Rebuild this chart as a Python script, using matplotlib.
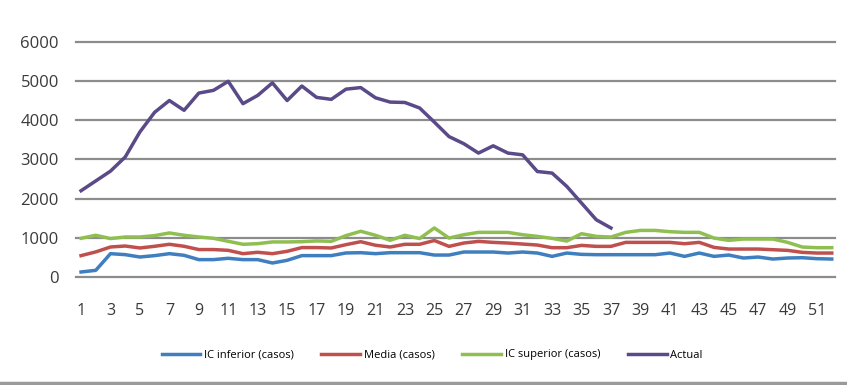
import matplotlib
matplotlib.use("Agg")
import matplotlib.pyplot as plt
from matplotlib.lines import Line2D
from matplotlib import font_manager

plt.rcParams['font.family'] = ['Open Sans', 'DejaVu Sans']

weeks = list(range(1, 53))
ic_inferior = [128, 170, 595, 570, 510, 545, 595, 553, 443, 443, 477, 443, 443, 357, 425, 545, 545, 545, 613, 620,
               595, 620, 620, 620, 560, 560, 637, 637, 637, 611, 637, 611, 526, 611, 577, 569, 569, 569, 569, 569,
               611, 526, 611, 526, 560, 484, 509, 458, 484, 492, 467, 458]
media = [545, 640, 765, 790, 740, 783, 834, 783, 700, 700, 680, 595, 630, 595, 655, 750, 750, 740, 825, 900,
         810, 765, 834, 834, 930, 781, 866, 908, 883, 866, 840, 815, 747, 747, 806, 781, 781, 883, 883, 883,
         883, 849, 883, 755, 713, 713, 713, 696, 679, 628, 611, 611]
ic_superior = [987, 1064, 980, 1020, 1020, 1055, 1123, 1064, 1020, 987, 910, 834, 850, 894, 894, 900, 920, 910, 1055, 1166,
               1064, 936, 1064, 980, 1250, 993, 1078, 1138, 1138, 1138, 1078, 1036, 985, 917, 1104, 1036, 1019, 1138, 1188, 1188,
               1155, 1138, 1138, 993, 934, 968, 968, 968, 883, 764, 747, 747]
actual_weeks = list(range(1, 38))
actual = [2200, 2450, 2700, 3060, 3700, 4200, 4500, 4250, 4690, 4760, 4990, 4420, 4630, 4950, 4500, 4870, 4580, 4530, 4790, 4830,
          4570, 4460, 4450, 4310, 3950, 3580, 3400, 3160, 3345, 3160, 3115, 2690, 2650, 2310, 1885, 1460, 1250]

series_names = ["IC inferior (casos)", "Media (casos)", "IC superior (casos)", "Actual"]
colors = ["#3f7fbf", "#c0504d", "#8fbf50", "#5a4a88"]
y_ticks = [0, 1000, 2000, 3000, 4000, 5000, 6000]
x_ticks = list(range(1, 52, 2))

available = {f.name for f in font_manager.fontManager.ttflist}
narrow = [f for f in ['Liberation Sans Narrow', 'DejaVu Sans Condensed'] if f in available]
legend_family = narrow + ['Open Sans', 'DejaVu Sans']

W, H = 847, 385
fig = plt.figure(figsize=(W / 100, H / 100), dpi=100)
left, right, top, bottom = 75.6, 835, 41.7, 277
ax = fig.add_axes([left / W, 1 - bottom / H, (right - left) / W, (bottom - top) / H])

lw = 2.5
for xs, ys, name, c in [(weeks, ic_inferior, series_names[0], colors[0]),
                        (weeks, media, series_names[1], colors[1]),
                        (weeks, ic_superior, series_names[2], colors[2]),
                        (actual_weeks, actual, series_names[3], colors[3])]:
    ax.plot(xs, ys, color=c, lw=lw, label=name, solid_joinstyle='round', zorder=3)

ax.set_ylim(0, 6000)
ax.set_xlim(0.63, 52.22)
ax.set_yticks(y_ticks)
ax.set_xticks(x_ticks)
ax.set_xticklabels([str(t) for t in x_ticks])
for t in y_ticks:
    ax.axhline(t, color="#8c8c8c", lw=1.6, zorder=1, clip_on=False)
for s in ax.spines.values():
    s.set_visible(False)
ax.tick_params(axis='both', length=0, colors="#3a3a3a")
ax.tick_params(axis='y', pad=12, labelsize=12)
ax.tick_params(axis='x', pad=19, labelsize=11.5)

handles = [Line2D([0], [0], color=c, lw=2.5) for c in colors]
fig.legend(handles, series_names, loc='center', bbox_to_anchor=(432 / W, 1 - 355 / H), ncol=4,
           frameon=False, prop={'family': legend_family, 'size': 8}, handlelength=3.5,
           columnspacing=2.5, handletextpad=0.3)

fig.add_artist(Line2D([0, 1], [1 - 383 / H, 1 - 383 / H], color="#9a9a9a", lw=2.5, transform=fig.transFigure))

fig.savefig("out.png", dpi=100)
